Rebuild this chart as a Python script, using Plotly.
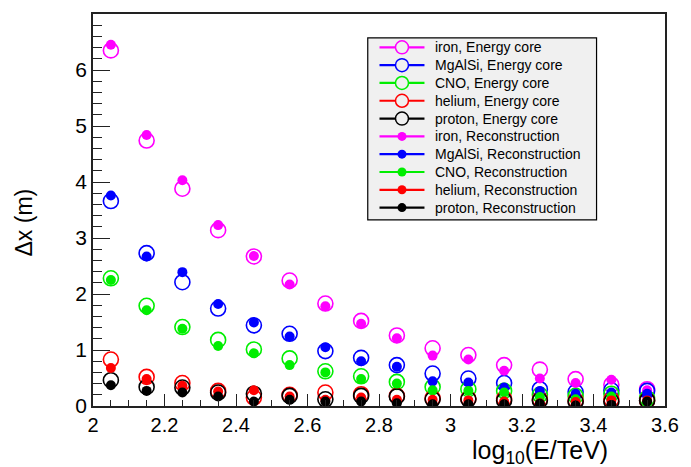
import plotly.graph_objects as go

# ---------------- data ----------------
log_e = [2.05, 2.15, 2.25, 2.35, 2.45, 2.55, 2.65, 2.75, 2.85, 2.95, 3.05, 3.15, 3.25, 3.35, 3.45, 3.55]

iron_core   = [6.35, 4.74, 3.88, 3.14, 2.67, 2.24, 1.83, 1.52, 1.26, 1.03, 0.91, 0.73, 0.65, 0.48, 0.38, 0.30]
mgalsi_core = [3.66, 2.73, 2.21, 1.74, 1.44, 1.29, 0.98, 0.86, 0.73, 0.58, 0.49, 0.41, 0.30, 0.25, 0.28, 0.27]
cno_core    = [2.28, 1.79, 1.41, 1.18, 1.01, 0.85, 0.62, 0.53, 0.43, 0.34, 0.30, 0.27, 0.20, 0.18, 0.22, 0.14]
helium_core = [0.83, 0.52, 0.41, 0.27, 0.15, 0.20, 0.24, 0.21, 0.18, 0.14, 0.13, 0.13, 0.12, 0.10, 0.12, 0.10]
proton_core = [0.46, 0.34, 0.33, 0.24, 0.22, 0.18, 0.12, 0.18, 0.17, 0.12, 0.12, 0.10, 0.10, 0.08, 0.08, 0.10]

iron_reco   = [6.45, 4.84, 4.03, 3.23, 2.68, 2.17, 1.78, 1.47, 1.21, 0.90, 0.83, 0.63, 0.49, 0.41, 0.47, 0.28]
mgalsi_reco = [3.76, 2.67, 2.39, 1.82, 1.49, 1.24, 1.05, 0.80, 0.70, 0.44, 0.42, 0.33, 0.27, 0.22, 0.24, 0.22]
cno_reco    = [2.25, 1.71, 1.38, 1.07, 0.94, 0.73, 0.60, 0.48, 0.40, 0.28, 0.27, 0.24, 0.16, 0.12, 0.17, 0.05]
helium_reco = [0.68, 0.48, 0.36, 0.26, 0.28, 0.17, 0.11, 0.15, 0.11, 0.11, 0.10, 0.08, 0.05, 0.07, 0.10, 0.10]
proton_reco = [0.37, 0.27, 0.24, 0.17, 0.08, 0.11, 0.08, 0.08, 0.05, 0.03, 0.03, 0.03, 0.04, 0.01, 0.02, 0.08]

species = ["iron", "MgAlSi", "CNO", "helium", "proton"]
colors = ["#ff00ff", "#0000ff", "#00ee00", "#ff0000", "#000000"]
core_series = [iron_core, mgalsi_core, cno_core, helium_core, proton_core]
reco_series = [iron_reco, mgalsi_reco, cno_reco, helium_reco, proton_reco]
method_labels = ["Energy core", "Reconstruction"]

x_tick_vals = [2, 2.2, 2.4, 2.6, 2.8, 3, 3.2, 3.4, 3.6]
x_tick_text = ["2", "2.2", "2.4", "2.6", "2.8", "3", "3.2", "3.4", "3.6"]
y_tick_vals = [0, 1, 2, 3, 4, 5, 6]
y_tick_text = ["0", "1", "2", "3", "4", "5", "6"]

# ---------------- geometry (pixels) ----------------
W, H = 691, 467
L, R, T, B = 93, 678, 12, 406
FONT = "Liberation Sans, Arial, Helvetica, sans-serif"

fig = go.Figure()

# data traces
for col, ys in zip(colors, core_series):
    fig.add_trace(go.Scatter(x=log_e, y=ys, mode="markers", showlegend=False,
                             marker=dict(symbol="circle-open", size=15, color=col,
                                         line=dict(width=1.6, color=col))))
for col, ys in zip(colors, reco_series):
    fig.add_trace(go.Scatter(x=log_e, y=ys, mode="markers", showlegend=False,
                             marker=dict(symbol="circle", size=10, color=col)))

# ---------------- hand-made ROOT-style legend (pixel overlay axes) ----------------
pw, ph = R - L, B - T
def px_x(p):
    return (p - L) / pw
def px_y(p):
    return (B - p) / ph

lx0, lx1, ly0, ly1 = 374, 608, 36, 219
fig.add_shape(type="rect", xref="paper", yref="paper",
              x0=px_x(lx0), x1=px_x(lx1), y0=px_y(ly1), y1=px_y(ly0),
              fillcolor="#f0f0f0", line=dict(color="black", width=1.2), layer="below")

row0, drow = 45.5, 17.9
line_x0, line_x1, mark_x, text_x = 386, 432, 409, 441
entries = []
for m, method in enumerate(method_labels):
    for name, col in zip(species, colors):
        entries.append((f"{name}, {method}", col, m == 0))

for i, (label, col, is_open) in enumerate(entries):
    yy = row0 + i * drow
    fig.add_trace(go.Scatter(x=[line_x0, line_x1], y=[yy, yy], mode="lines",
                             xaxis="x2", yaxis="y2", showlegend=False, hoverinfo="skip",
                             line=dict(color=col, width=2.2)))
    if is_open:
        mk = dict(symbol="circle", size=13, color="#f0f0f0",
                  line=dict(width=1.5, color=col))
    else:
        mk = dict(symbol="circle", size=9, color=col)
    fig.add_trace(go.Scatter(x=[mark_x], y=[yy], mode="markers",
                             xaxis="x2", yaxis="y2", showlegend=False, hoverinfo="skip",
                             marker=mk))
    fig.add_annotation(text=label, xref="x2", yref="y2", x=text_x, y=yy,
                       xanchor="left", yanchor="middle", showarrow=False,
                       font=dict(family=FONT, size=14, color="black"))

fig.update_layout(
    width=W, height=H,
    margin=dict(l=L, r=W - R, t=T, b=H - B),
    paper_bgcolor="white", plot_bgcolor="white",
    font=dict(family=FONT, color="black"),
    showlegend=False,
    xaxis=dict(range=[1.99999, 3.60001], showgrid=False, zeroline=False,
               showline=True, linecolor="#222", linewidth=1.5, mirror=True,
               ticks="inside", ticklen=12, tickwidth=1, tickcolor="#222",
               tickvals=x_tick_vals, ticktext=x_tick_text,
               ticklabeloverflow="allow",
               tickfont=dict(family=FONT, size=20, color="black"),
               minor=dict(dtick=0.05, tick0=2, ticks="inside", ticklen=6,
                          tickwidth=1, tickcolor="#222", showgrid=False)),
    yaxis=dict(range=[0, 7.0], showgrid=False, zeroline=False,
               showline=True, linecolor="#222", linewidth=1.5, mirror=True,
               ticks="inside", ticklen=17, tickwidth=1, tickcolor="#222",
               tickvals=y_tick_vals, ticktext=y_tick_text,
               tickfont=dict(family=FONT, size=21, color="black"),
               minor=dict(dtick=0.2, tick0=0, ticks="inside", ticklen=9,
                          tickwidth=1, tickcolor="#222", showgrid=False)),
    xaxis2=dict(range=[L, R], overlaying="x", visible=False, fixedrange=True),
    yaxis2=dict(range=[B, T], overlaying="y", visible=False, fixedrange=True),
)

# axis titles
fig.add_annotation(text="log<sub>10</sub>(E/TeV)", xref="paper", yref="paper",
                   x=px_x(622), y=px_y(452), xanchor="right", yanchor="middle",
                   showarrow=False, font=dict(family=FONT, size=25, color="black"))
fig.add_annotation(text="Δx (m)", xref="paper", yref="paper",
                   x=px_x(22), y=px_y(222), xanchor="center", yanchor="middle",
                   textangle=-90, showarrow=False,
                   font=dict(family=FONT, size=23, color="black"))

fig.write_html("out.html")
